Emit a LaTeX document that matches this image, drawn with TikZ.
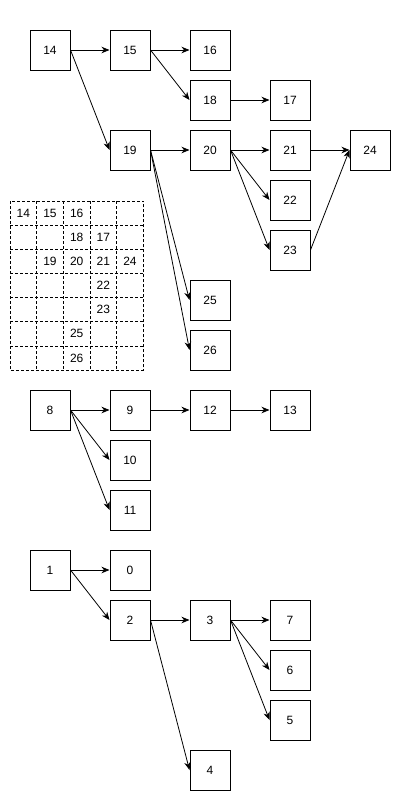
\documentclass[tikz,border=0pt]{standalone}
\usepackage{fontspec}
\setmainfont{Liberation Sans}
\usetikzlibrary{arrows.meta}
\begin{document}
\begin{tikzpicture}[x=1pt,y=-1pt,
  box/.style={draw,line width=1pt,minimum width=40pt,minimum height=40pt,inner sep=0pt,font=\fontsize{12}{14}\selectfont},
  link/.style={-{Stealth[length=8pt,width=6.5pt,inset=2.5pt]},line width=0.8pt},
  cellgrid/.style={draw,dashed,dash pattern=on 3pt off 2pt,line width=0.8pt},
  cell/.style={font=\fontsize{12}{14}\selectfont,inner sep=0pt}]
\useasboundingbox (0,0) rectangle (411,811);
% tree rooted at 14
\node[box] (n14) at (50,50) {14};
\node[box] (n15) at (130,50) {15};
\node[box] (n16) at (210,50) {16};
\node[box] (n18) at (210,100) {18};
\node[box] (n17) at (290,100) {17};
\node[box] (n19) at (130,150) {19};
\node[box] (n20) at (210,150) {20};
\node[box] (n21) at (290,150) {21};
\node[box] (n24) at (370,150) {24};
\node[box] (n22) at (290,200) {22};
\node[box] (n23) at (290,250) {23};
\node[box] (n25) at (210,300) {25};
\node[box] (n26) at (210,350) {26};
\draw[link] (n14.east) -- (n15.west);
\draw[link] (n14.east) -- (n19.west);
\draw[link] (n15.east) -- (n16.west);
\draw[link] (n15.east) -- (n18.west);
\draw[link] (n18.east) -- (n17.west);
\draw[link] (n19.east) -- (n20.west);
\draw[link] (n19.east) -- (n25.west);
\draw[link] (n19.east) -- (n26.west);
\draw[link] (n20.east) -- (n21.west);
\draw[link] (n20.east) -- (n22.west);
\draw[link] (n20.east) -- (n23.west);
\draw[link] (n21.east) -- (n24.west);
\draw[link] (n23.east) -- (n24.west);
% dashed layout grid
\draw[cellgrid] (10,201) rectangle (143.3,370);
\foreach \gx in {36.67,63.33,90,116.67} \draw[cellgrid] (\gx,201) -- (\gx,370);
\foreach \gy in {225.1,249.3,273.4,297.6,321.7,345.9} \draw[cellgrid] (10,\gy) -- (143.3,\gy);
\node[cell] (g14) at (23.3,213) {14};
\node[cell] (g15) at (50,213) {15};
\node[cell] (g16) at (76.7,213) {16};
\node[cell] (g18) at (76.7,237.2) {18};
\node[cell] (g17) at (103.3,237.2) {17};
\node[cell] (g19) at (50,261.4) {19};
\node[cell] (g20) at (76.7,261.4) {20};
\node[cell] (g21) at (103.3,261.4) {21};
\node[cell] (g24) at (130,261.4) {24};
\node[cell] (g22) at (103.3,285.5) {22};
\node[cell] (g23) at (103.3,309.7) {23};
\node[cell] (g25) at (76.7,333.8) {25};
\node[cell] (g26) at (76.7,358) {26};
% tree rooted at 8
\node[box] (n8) at (50,410) {8};
\node[box] (n9) at (130,410) {9};
\node[box] (n12) at (210,410) {12};
\node[box] (n13) at (290,410) {13};
\node[box] (n10) at (130,460) {10};
\node[box] (n11) at (130,510) {11};
\draw[link] (n8.east) -- (n9.west);
\draw[link] (n8.east) -- (n10.west);
\draw[link] (n8.east) -- (n11.west);
\draw[link] (n9.east) -- (n12.west);
\draw[link] (n12.east) -- (n13.west);
% tree rooted at 1
\node[box] (n1) at (50,570) {1};
\node[box] (n0) at (130,570) {0};
\node[box] (n2) at (130,620) {2};
\node[box] (n3) at (210,620) {3};
\node[box] (n7) at (290,620) {7};
\node[box] (n6) at (290,670) {6};
\node[box] (n5) at (290,720) {5};
\node[box] (n4) at (210,770) {4};
\draw[link] (n1.east) -- (n0.west);
\draw[link] (n1.east) -- (n2.west);
\draw[link] (n2.east) -- (n3.west);
\draw[link] (n2.east) -- (n4.west);
\draw[link] (n3.east) -- (n7.west);
\draw[link] (n3.east) -- (n6.west);
\draw[link] (n3.east) -- (n5.west);
\end{tikzpicture}
\end{document}
